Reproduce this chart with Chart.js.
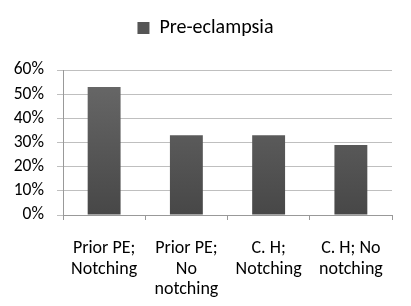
<!DOCTYPE html>
<html><head><meta charset="utf-8">
<script src="https://cdn.jsdelivr.net/npm/chart.js@4/dist/chart.umd.min.js"></script>
<style>html,body{margin:0;padding:0;background:#fff}#w{width:411px;height:306px}</style>
</head><body><div id="w"><canvas id="c"></canvas></div>
<script>
const categories = [['Prior PE;','Notching'], ['Prior PE;','No','notching'], ['C. H;','Notching'], ['C. H; No','notching']];
const seriesName = 'Pre-eclampsia';
const values = [53, 33, 33, 29];
const yTicks = [0, 10, 20, 30, 40, 50, 60];
const FONT = "Carlito, Lato, 'Liberation Sans', Arial, sans-serif";
function grad(ctx) {
  const ch = ctx.chart, a = ch.chartArea;
  if (!a) return '#555';
  const g = ch.ctx.createLinearGradient(0, a.bottom, 0, a.top);
  g.addColorStop(0, '#474747');
  g.addColorStop(1, '#6a6a6a');
  return g;
}
const legendGap = {
  id: 'legendGap',
  afterInit(chart) {
    const lg = chart.legend; if (!lg) return;
    const orig = lg.fit;
    lg.fit = function () { orig.call(this); this.height = 70; };
  },
  afterLayout(chart) {
    const lg = chart.legend; if (!lg) return;
    lg.left = 0; lg.right = chart.width; lg.width = chart.width;
  }
};
new Chart(document.getElementById('c'), {
  type: 'bar',
  data: { labels: categories, datasets: [{ label: seriesName, data: values, backgroundColor: grad, borderWidth: 0, categoryPercentage: 1, barPercentage: 0.4 }] },
  options: {
    responsive: true, maintainAspectRatio: false, animation: false,
    layout: { padding: { left: 0, right: 19, top: 0, bottom: 0 } },
    plugins: {
      legend: { position: 'top', labels: { boxWidth: 12, boxHeight: 12, color: '#000', font: { family: FONT, size: 20 }, padding: 18,
        generateLabels: (chart) => [{ text: seriesName, fillStyle: '#555', strokeStyle: '#555', lineWidth: 0, datasetIndex: 0 }] } },
      tooltip: { enabled: false }
    },
    scales: {
      y: { min: 0, max: 60, afterBuildTicks: (s) => { s.ticks = yTicks.map(v => ({ value: v })); },
        afterFit: (s) => { s.width = 63; },
        ticks: { callback: v => v + '%', color: '#000', font: { family: FONT, size: 17.5 }, padding: 13 },
        grid: { color: '#bfbfbf', tickLength: 6 }, border: { color: '#999' } },
      x: { afterFit: (s) => { s.height = 91; },
        ticks: { color: '#000', font: { family: FONT, size: 18, lineHeight: 1.15 }, padding: 18, maxRotation: 0, autoSkip: false },
        grid: { offset: true, drawOnChartArea: false, tickLength: 5, color: '#999' }, border: { color: '#999' } }
    }
  },
  plugins: [legendGap]
});
</script></body></html>
